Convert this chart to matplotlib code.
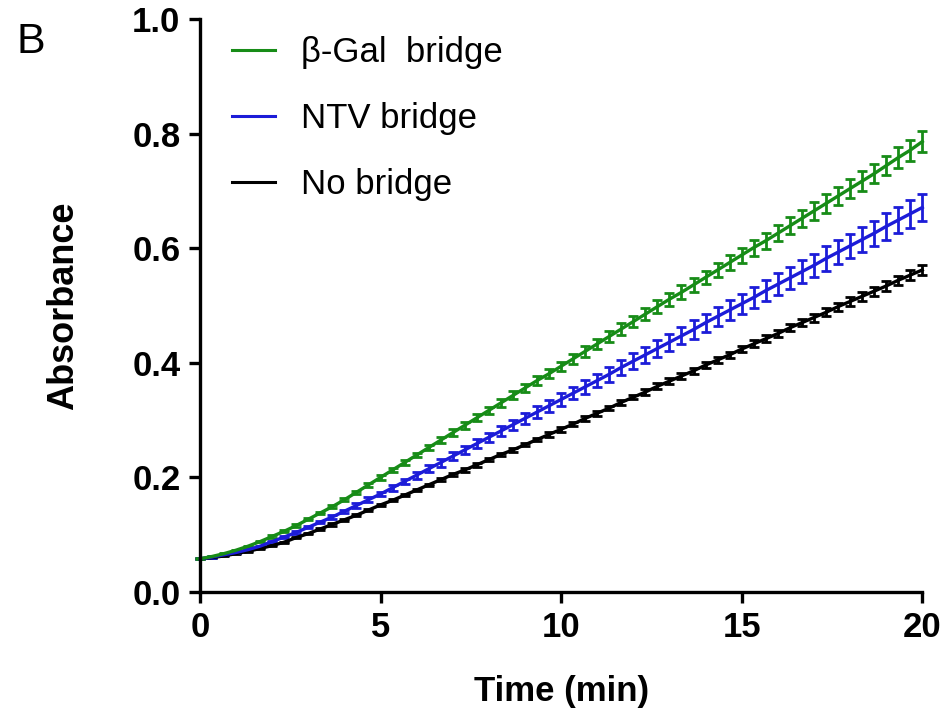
import matplotlib
matplotlib.use('Agg')
import matplotlib.pyplot as plt
from matplotlib.lines import Line2D

# time points every 20 s, in minutes
time_min = [i / 3 for i in range(61)]

gal_bridge = [0.058, 0.062, 0.067, 0.073, 0.080, 0.088, 0.097, 0.106, 0.116, 0.127,
              0.138, 0.149, 0.161, 0.174, 0.187, 0.200, 0.213, 0.226, 0.239, 0.252,
              0.265, 0.278, 0.291, 0.304, 0.317, 0.330, 0.343, 0.356, 0.369, 0.381,
              0.394, 0.407, 0.420, 0.433, 0.446, 0.459, 0.472, 0.485, 0.498, 0.511,
              0.523, 0.536, 0.549, 0.562, 0.575, 0.588, 0.601, 0.613, 0.626, 0.639,
              0.652, 0.665, 0.678, 0.691, 0.704, 0.717, 0.730, 0.744, 0.758, 0.771,
              0.786]
gal_err = [0.001, 0.001, 0.001, 0.001, 0.001, 0.001, 0.002, 0.002, 0.002, 0.002,
           0.002, 0.003, 0.003, 0.003, 0.003, 0.004, 0.004, 0.004, 0.004, 0.005,
           0.005, 0.006, 0.006, 0.006, 0.006, 0.007, 0.007, 0.007, 0.008, 0.008,
           0.008, 0.009, 0.009, 0.009, 0.010, 0.010, 0.010, 0.011, 0.011, 0.011,
           0.012, 0.012, 0.012, 0.013, 0.013, 0.013, 0.014, 0.014, 0.014, 0.015,
           0.015, 0.015, 0.016, 0.016, 0.016, 0.017, 0.017, 0.017, 0.018, 0.018,
           0.018]

ntv_bridge = [0.058, 0.061, 0.065, 0.069, 0.074, 0.080, 0.088, 0.096, 0.104, 0.113,
              0.122, 0.131, 0.141, 0.151, 0.161, 0.171, 0.182, 0.193, 0.204, 0.215,
              0.226, 0.237, 0.248, 0.259, 0.270, 0.281, 0.292, 0.303, 0.314, 0.325,
              0.336, 0.347, 0.358, 0.369, 0.380, 0.392, 0.403, 0.414, 0.425, 0.436,
              0.447, 0.458, 0.470, 0.481, 0.492, 0.503, 0.514, 0.526, 0.537, 0.548,
              0.559, 0.570, 0.582, 0.593, 0.604, 0.615, 0.626, 0.638, 0.649, 0.660,
              0.671]
ntv_err = [0.001, 0.001, 0.001, 0.001, 0.001, 0.001, 0.001, 0.001, 0.002, 0.002,
           0.002, 0.003, 0.003, 0.004, 0.004, 0.004, 0.005, 0.005, 0.006, 0.006,
           0.007, 0.007, 0.007, 0.008, 0.008, 0.009, 0.009, 0.010, 0.010, 0.010,
           0.011, 0.011, 0.012, 0.012, 0.013, 0.013, 0.014, 0.014, 0.014, 0.015,
           0.015, 0.016, 0.016, 0.017, 0.017, 0.017, 0.018, 0.018, 0.019, 0.019,
           0.020, 0.020, 0.021, 0.021, 0.021, 0.022, 0.022, 0.023, 0.023, 0.024,
           0.024]

no_bridge = [0.058, 0.060, 0.063, 0.067, 0.071, 0.076, 0.081, 0.087, 0.095, 0.102,
             0.110, 0.118, 0.126, 0.134, 0.143, 0.152, 0.160, 0.169, 0.178, 0.187,
             0.196, 0.205, 0.213, 0.222, 0.231, 0.240, 0.248, 0.257, 0.266, 0.275,
             0.284, 0.293, 0.303, 0.312, 0.321, 0.331, 0.340, 0.349, 0.359, 0.368,
             0.377, 0.386, 0.396, 0.405, 0.414, 0.424, 0.433, 0.442, 0.451, 0.461,
             0.470, 0.479, 0.488, 0.498, 0.507, 0.516, 0.525, 0.534, 0.544, 0.553,
             0.562]
no_err = [0.001, 0.001, 0.001, 0.001, 0.001, 0.001, 0.001, 0.001, 0.001, 0.001,
          0.001, 0.002, 0.002, 0.002, 0.002, 0.002, 0.002, 0.002, 0.002, 0.002,
          0.003, 0.003, 0.003, 0.003, 0.003, 0.003, 0.003, 0.003, 0.003, 0.004,
          0.004, 0.004, 0.004, 0.004, 0.004, 0.004, 0.004, 0.005, 0.005, 0.005,
          0.005, 0.005, 0.005, 0.005, 0.005, 0.006, 0.006, 0.006, 0.006, 0.006,
          0.006, 0.007, 0.007, 0.007, 0.007, 0.008, 0.008, 0.008, 0.008, 0.009,
          0.009]

labels = ['\u03b2-Gal  bridge', 'NTV bridge', 'No bridge']
colors = ['#178c17', '#1c1cd8', 'black']

plt.rcParams['font.family'] = ['Liberation Sans', 'DejaVu Sans']

fig = plt.figure(figsize=(9.43, 7.19), dpi=100)
ax = fig.add_axes([0.212, 0.1766, 0.766, 0.797])

series = [(gal_bridge, gal_err), (ntv_bridge, ntv_err), (no_bridge, no_err)]
for (vals, err), c in zip(series[::-1], colors[::-1]):
    ax.errorbar(time_min, vals, yerr=err, color=c, lw=2.4, elinewidth=2.0,
                capsize=3.5, capthick=2.0, clip_on=False)

ax.set_xlim(0, 20)
ax.set_ylim(0, 1.0)
ax.set_xticks([0, 5, 10, 15, 20])
ax.set_yticks([0.0, 0.2, 0.4, 0.6, 0.8, 1.0])
ax.set_yticklabels(['0.0', '0.2', '0.4', '0.6', '0.8', '1.0'])
for s in ['top', 'right']:
    ax.spines[s].set_visible(False)
for s in ['left', 'bottom']:
    ax.spines[s].set_linewidth(2.4)
ax.tick_params(width=2.4, length=8, direction='out', pad=6)
for lab in ax.get_xticklabels() + ax.get_yticklabels():
    lab.set_fontweight('bold')
    lab.set_fontsize(25)

ax.set_xlabel('Time (min)', fontsize=25, fontweight='bold', labelpad=22)
ax.set_ylabel('Absorbance', fontsize=26, fontweight='bold', labelpad=37)

handles = [Line2D([0], [0], color=c, lw=2.2) for c in colors]
ax.legend(handles, labels, loc='upper left', bbox_to_anchor=(0.025, 0.995),
          frameon=False, fontsize=25, handlelength=1.25, handletextpad=0.75,
          labelspacing=0.95, borderaxespad=0)

fig.text(0.018, 0.942, 'B', fontsize=31, va='center')

fig.savefig('out.png', dpi=100)
